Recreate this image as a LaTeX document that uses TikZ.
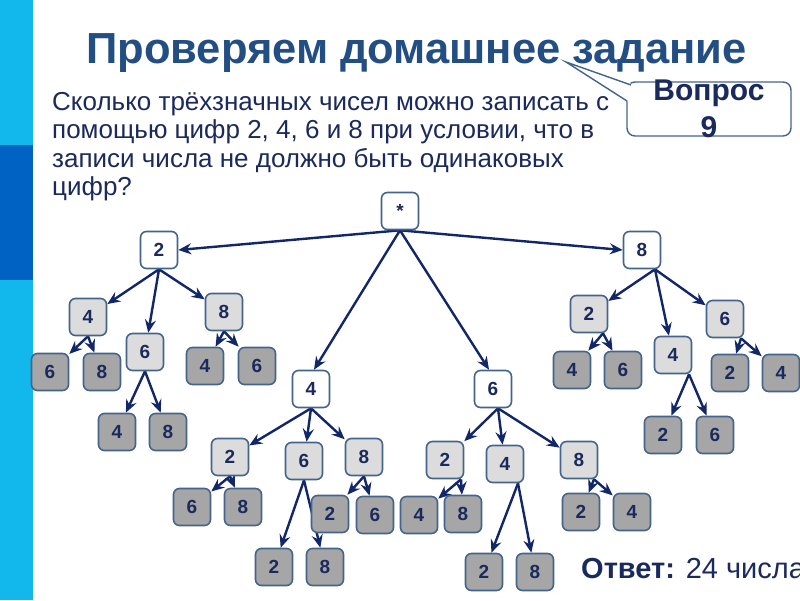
\documentclass[tikz,border=0pt]{standalone}
\usepackage{fontspec}
\setmainfont{Liberation Sans}
\usetikzlibrary{arrows.meta,backgrounds}
\definecolor{barcyan}{HTML}{12B8EC}
\definecolor{barblue}{HTML}{0062C2}
\definecolor{titlec}{HTML}{234E84}
\definecolor{navy}{HTML}{1B2A5C}
\definecolor{boxline}{HTML}{44648C}
\definecolor{arrowc}{HTML}{12266A}
\definecolor{lightfill}{HTML}{DCDCDC}
\definecolor{darkfill}{HTML}{A6A6A6}
\tikzset{
  box/.style={draw=boxline, line width=1.6pt, rounded corners=6pt,
    minimum width=37pt, minimum height=37pt, inner sep=0pt, text=navy,
    font=\fontsize{19}{19}\selectfont\bfseries},
  wbox/.style={box, fill=white},
  lbox/.style={box, fill=lightfill},
  dbox/.style={box, fill=darkfill},
  arr/.style={draw=arrowc, line width=2.4pt,
    -{Stealth[length=13pt,width=11pt,inset=4.5pt]}},
  body/.style={anchor=base west, inner sep=0pt, text=navy,
    font=\fontsize{26}{26}\selectfont},
}
\begin{document}
\begin{tikzpicture}[x=1pt,y=-1pt]
\clip (0,0) rectangle (800,600);
\begin{scope}[on background layer]
\fill[white] (0,0) rectangle (800,600);
% left bar
\fill[barcyan] (0,0) rectangle (33,600);
\fill[barblue] (0,145) rectangle (33,280);
\end{scope}
% title
\node[anchor=base west, inner sep=0pt, text=titlec,
  font=\fontsize{43.5}{43.5}\selectfont\bfseries] (title) at (86,63)
  {Проверяем домашнее задание};
% question text
\node[body] (l1) at (52,110) {Сколько трёхзначных чисел можно записать с};
\node[body] (l2) at (52,138.5) {помощью цифр 2, 4, 6 и 8 при условии, что в};
\node[body] (l3) at (52,167) {записи числа не должно быть одинаковых};
\node[body] (l4) at (52,195.5) {цифр?};
% callout
\node[draw=boxline, fill=white, line width=1.4pt, rounded corners=8pt,
  minimum width=164pt, minimum height=54pt] (q) at (709,109) {};
\coordinate (tip) at (566,62);
\coordinate (ca) at (631,85);
\coordinate (cb) at (627,101);
\fill[white] (tip) -- (632,84) -- (632,103) -- (cb) -- cycle;
\draw[boxline, line width=1.4pt] (ca) -- (tip) -- (cb);
\node[anchor=base, inner sep=0pt, text=navy,
  font=\fontsize{30}{30}\selectfont\bfseries] (qt1) at (709,100) {Вопрос};
\node[anchor=base, inner sep=0pt, text=navy,
  font=\fontsize{30}{30}\selectfont\bfseries] (qt2) at (709,137) {9};
% answer
\node[anchor=base west, inner sep=0pt, text=navy,
  font=\fontsize{29}{29}\selectfont] (ans) at (581,578)
  {\textbf{Ответ:} 24 числа};
% tree
\node[wbox] (r) at (400,211) {*};
\node[wbox] (a2) at (159,250) {2};
\node[wbox] (a8) at (642,250) {8};
\node[wbox] (a4) at (311,389) {4};
\node[wbox] (a6) at (493,389) {6};
% under 2
\node[lbox] (b4) at (88,317) {4};
\node[lbox] (b6) at (145,352) {6};
\node[lbox] (b8) at (224,312) {8};
\node[dbox] (b46) at (50,372) {6};
\node[dbox] (b48) at (102,372) {8};
\node[dbox] (b64) at (117,432) {4};
\node[dbox] (b68) at (168,432) {8};
\node[dbox] (b84) at (205,366) {4};
\node[dbox] (b86) at (257,366) {6};
% under 4
\node[lbox] (d2) at (230,457) {2};
\node[lbox] (d6) at (304,461) {6};
\node[lbox] (d8) at (364,457) {8};
\node[dbox] (d26) at (192,507) {6};
\node[dbox] (d28) at (243,507) {8};
\node[dbox] (d62) at (274,567) {2};
\node[dbox] (d68) at (325,567) {8};
\node[dbox] (d82) at (330,514) {2};
\node[dbox] (d86) at (375,515) {6};
% under 6
\node[lbox] (e2) at (445,460) {2};
\node[lbox] (e4) at (505,464) {4};
\node[lbox] (e8) at (579,460) {8};
\node[dbox] (e24) at (419,515) {4};
\node[dbox] (e28) at (463,514) {8};
\node[dbox] (e42) at (484,572) {2};
\node[dbox] (e48) at (535,572) {8};
\node[dbox] (e82) at (581,512) {2};
\node[dbox] (e84) at (632,512) {4};
% under 8
\node[lbox] (f2) at (589,314) {2};
\node[lbox] (f4) at (673,355) {4};
\node[lbox] (f6) at (725,319) {6};
\node[dbox] (f24) at (572,370) {4};
\node[dbox] (f26) at (623,370) {6};
\node[dbox] (f42) at (663,435) {2};
\node[dbox] (f46) at (715,435) {6};
\node[dbox] (f62) at (730,373) {2};
\node[dbox] (f64) at (781,373) {4};
% arrows
\begin{scope}[on background layer]
\draw[arr] (r.south) -- (a2.east);
\draw[arr] (r.south) -- (a8.west);
\draw[arr] (r.south) -- ([xshift=3pt]a4.north);
\draw[arr] (r.south) -- ([xshift=-4pt]a6.north);
\foreach \c in {b4,b6,b8} \draw[arr] (a2.south) -- (\c);
\foreach \c in {b46,b48} \draw[arr] (b4.south) -- (\c);
\foreach \c in {b64,b68} \draw[arr] (b6.south) -- (\c);
\foreach \c in {b84,b86} \draw[arr] (b8.south) -- (\c);
\foreach \c in {d2,d6,d8} \draw[arr] (a4.south) -- (\c);
\foreach \c in {d26,d28} \draw[arr] (d2.south) -- (\c);
\foreach \c in {d62,d68} \draw[arr] (d6.south) -- (\c);
\foreach \c in {d82,d86} \draw[arr] (d8.south) -- (\c);
\foreach \c in {e2,e4,e8} \draw[arr] ([xshift=5pt]a6.south) -- (\c);
\foreach \c in {e24,e28} \draw[arr] ([xshift=16pt]e2.south) -- (\c);
\foreach \c in {e42,e48} \draw[arr] ([xshift=13pt]e4.south) -- (\c);
\foreach \c in {e82,e84} \draw[arr] ([xshift=15pt]e8.south) -- (\c);
\foreach \c in {f2,f4,f6} \draw[arr] ([xshift=13pt]a8.south) -- (\c);
\foreach \c in {f24,f26} \draw[arr] ([xshift=14pt]f2.south) -- (\c);
\foreach \c in {f42,f46} \draw[arr] ([xshift=16pt]f4.south) -- (\c);
\foreach \c in {f62,f64} \draw[arr] ([xshift=16pt]f6.south) -- (\c);
\end{scope}
\end{tikzpicture}
\end{document}
